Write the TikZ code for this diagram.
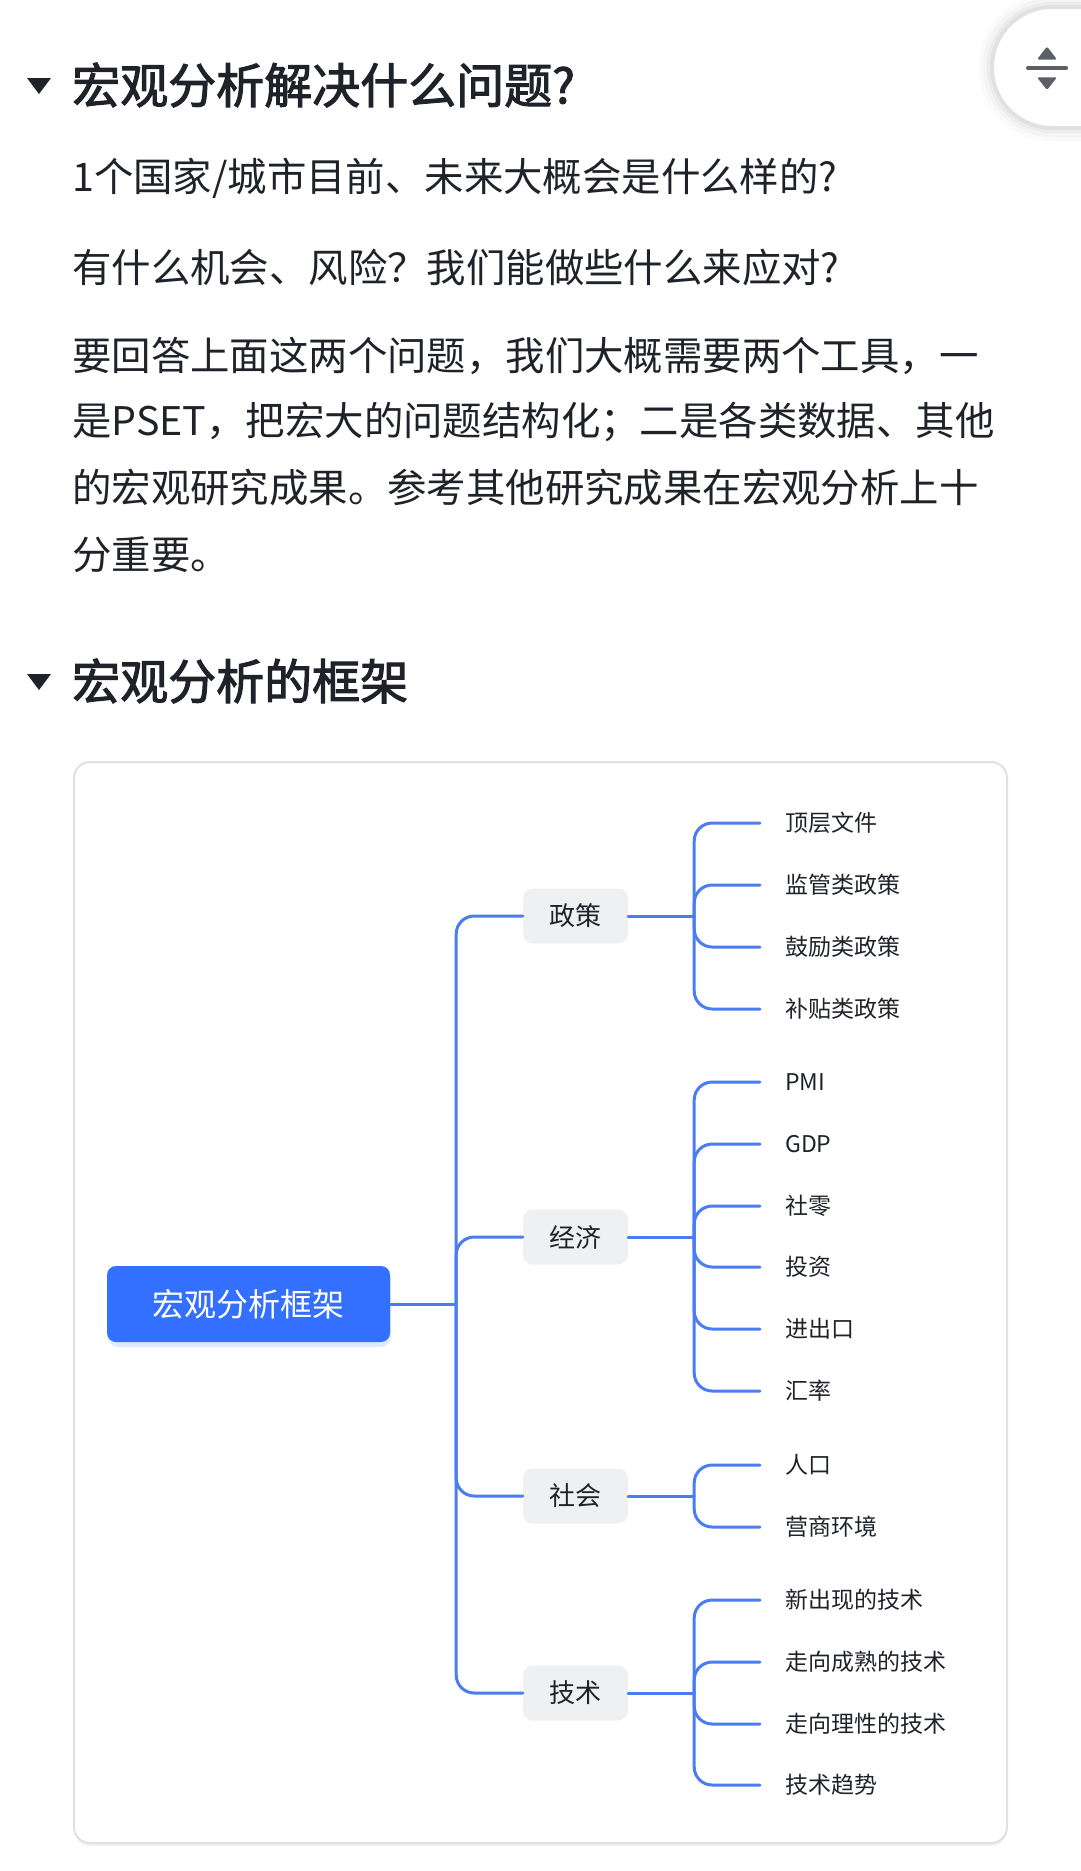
\documentclass[tikz,border=0pt]{standalone}
\usepackage{fontspec}
\setmainfont{Noto Sans CJK SC}
\newfontfamily\headfont[FakeBold=2.2]{Noto Sans CJK SC}
\definecolor{ink}{HTML}{1F2329}
\definecolor{conn}{HTML}{4A7DF2}
\definecolor{rootblue}{HTML}{3370FF}
\definecolor{lvlgray}{HTML}{EFF0F2}
\definecolor{framegray}{HTML}{E0E1E3}
\definecolor{icongray}{HTML}{5C5F66}
\tikzset{
  txt/.style={anchor=west, inner sep=0pt, text=ink},
  headtxt/.style={txt, font=\fontsize{48}{56}\headfont},
  bodytxt/.style={txt, font=\fontsize{39.4}{46}\selectfont},
  rootbox/.style={fill=rootblue, rounded corners=9pt, minimum width=283pt, minimum height=76pt, inner sep=0pt, text=white, font=\fontsize{32}{38}\selectfont},
  lvlbox/.style={fill=lvlgray, rounded corners=10pt, minimum width=105pt, minimum height=55pt, inner sep=0pt, text=ink, font=\fontsize{26}{30}\selectfont},
  leaf/.style={txt, font=\fontsize{23}{28}\selectfont},
  link/.style={draw=conn, line width=3pt, line cap=round},
  curvelink/.style={link, rounded corners=18pt},
  tri/.style={fill=ink},
}
\begin{document}
\begin{tikzpicture}[x=1pt,y=-1pt]
\useasboundingbox (0,0) rectangle (1080,1871);
\fill[white] (0,0) rectangle (1080,1871);

% top-right button
\foreach \d/\o in {14/0.02,10/0.025,6/0.03,3/0.04}{
  \fill[black, opacity=\o, rounded corners=59pt+\d pt] (993-\d,8-\d) rectangle (1140+\d,127+\d);
}
\filldraw[fill=white, draw=framegray, line width=2pt, rounded corners=59pt] (993,8) rectangle (1140,127);
\fill[icongray, rounded corners=1.5pt] (1037,59.5) -- (1057,59.5) -- (1047,46.5) -- cycle;
\draw[icongray, line width=4pt, line cap=round] (1028,68.3) -- (1066,68.3);
\fill[icongray, rounded corners=1.5pt] (1037,77.3) -- (1057,77.3) -- (1047,90) -- cycle;

% heading 1
\fill[tri] (27,78) -- (51,78) -- (39,94) -- cycle;
\node[headtxt] (h1) at (72,85) {宏观分析解决什么问题?};

\node[bodytxt] (q1) at (72,178) {1个国家/城市目前、未来大概会是什么样的?};
\node[bodytxt] (q2) at (72,268) {有什么机会、风险？我们能做些什么来应对?};
\node[bodytxt] (p1l) at (72,356) {要回答上面这两个问题，我们大概需要两个工具，一};
\node[bodytxt] (p2l) at (72,422) {是PSET，把宏大的问题结构化；二是各类数据、其他};
\node[bodytxt] (p3l) at (72,488) {的宏观研究成果。参考其他研究成果在宏观分析上十};
\node[bodytxt] (p4l) at (72,555) {分重要。};

% heading 2
\fill[tri] (27,674) -- (51,674) -- (39,690) -- cycle;
\node[headtxt] (h2) at (72,681) {宏观分析的框架};

% frame
\fill[black, opacity=0.05, rounded corners=16pt] (74,765) rectangle (1007,1846);
\filldraw[fill=white, draw=framegray, line width=2pt, rounded corners=16pt] (74,762) rectangle (1007,1843);

% root
\fill[rootblue, opacity=0.15, rounded corners=10pt] (108,1270) rectangle (391,1347);
\node[rootbox] (root) at (248.5,1304) {宏观分析框架};

% level 1
\node[lvlbox] (zc) at (575.5,916) {政策};
\node[lvlbox] (jj) at (575.5,1237) {经济};
\node[lvlbox] (sh) at (575.5,1496) {社会};
\node[lvlbox] (js) at (575.5,1693) {技术};

% trunk
\coordinate (t) at ([xshift=66pt]root.east);
\draw[link] (root.east) -- (t);
\foreach \n in {zc,jj,sh,js}{ \draw[curvelink] (t) |- (\n.west); }

% leaves
\node[leaf] (a1) at (785,823) {顶层文件};
\node[leaf] (a2) at (785,885) {监管类政策};
\node[leaf] (a3) at (785,947) {鼓励类政策};
\node[leaf] (a4) at (785,1009) {补贴类政策};

\node[leaf] (b1) at (785,1082) {PMI};
\node[leaf] (b2) at (785,1144) {GDP};
\node[leaf] (b3) at (785,1206) {社零};
\node[leaf] (b4) at (785,1267) {投资};
\node[leaf] (b5) at (785,1329) {进出口};
\node[leaf] (b6) at (785,1391) {汇率};

\node[leaf] (c1) at (785,1465) {人口};
\node[leaf] (c2) at (785,1527) {营商环境};

\node[leaf] (d1) at (785,1600) {新出现的技术};
\node[leaf] (d2) at (785,1662) {走向成熟的技术};
\node[leaf] (d3) at (785,1724) {走向理性的技术};
\node[leaf] (d4) at (785,1785) {技术趋势};

% branches
\coordinate (bz) at ([xshift=66pt]zc.east);
\coordinate (bj) at ([xshift=66pt]jj.east);
\coordinate (bs) at ([xshift=66pt]sh.east);
\coordinate (bt) at ([xshift=66pt]js.east);
\draw[link] (zc.east) -- (bz);
\draw[link] (jj.east) -- (bj);
\draw[link] (sh.east) -- (bs);
\draw[link] (js.east) -- (bt);
\foreach \n in {a1,a2,a3,a4}{ \draw[curvelink] (bz) |- ([xshift=-25pt]\n.west); }
\foreach \n in {b1,b2,b3,b4,b5,b6}{ \draw[curvelink] (bj) |- ([xshift=-25pt]\n.west); }
\foreach \n in {c1,c2}{ \draw[curvelink] (bs) |- ([xshift=-25pt]\n.west); }
\foreach \n in {d1,d2,d3,d4}{ \draw[curvelink] (bt) |- ([xshift=-25pt]\n.west); }
\end{tikzpicture}
\end{document}
